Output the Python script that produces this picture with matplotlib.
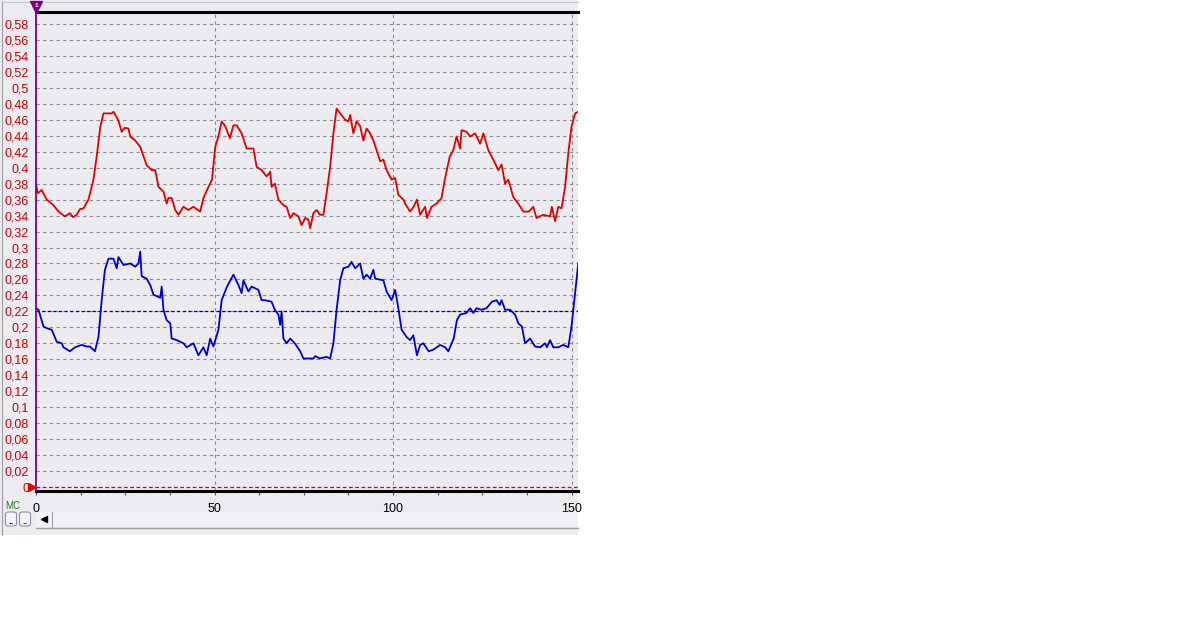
import numpy as np
import matplotlib
matplotlib.use("Agg")
import matplotlib.pyplot as plt
from matplotlib.patches import Rectangle, FancyBboxPatch
from matplotlib.lines import Line2D

# ---------------- data ----------------
red_x = [0, 0.5, 1.6, 3, 4.9, 6.3, 8.1, 9.5, 10.4, 11.4, 12.3, 13.3, 14.7, 16.1, 17, 18, 18.9,
         21.2, 21.7, 23, 24, 24.9, 25.9, 26.4, 27.8, 29.2, 31, 32.4, 33.4, 34.3, 35.7, 36.6,
         37.1, 38, 39, 39.9, 41.3, 42.7, 44.1, 46, 46.9, 47.9, 49.3, 50.2, 51.1, 52, 53, 54.3,
         55.3, 56.2, 57.6, 59, 60.9, 61.8, 63.2, 64.6, 65.6, 66, 66.9, 67.9, 69.3, 70.2, 71.2,
         72.1, 73.5, 74.4, 75.4, 76.3, 76.8, 77.7, 78.6, 79.5, 80.5, 81.4, 82.4, 83.3, 84.2,
         85.2, 86.6, 87.5, 88, 88.9, 89.8, 90.8, 91.7, 92.6, 93.6, 94.5, 95.4, 96.4, 97.3,
         98.2, 99.6, 100.6, 101.5, 102.9, 103.4, 104.8, 105.8, 106.7, 107.6, 109, 109.5,
         110.8, 112.2, 113.6, 114.5, 115.9, 116.9, 117.8, 118.8, 119.2, 120.6, 121.6, 123,
         124.4, 125.3, 126.7, 128.1, 129.5, 130.4, 131.4, 132.3, 133.7, 135.1, 136.5, 138,
         139.3, 140.2, 142.1, 144, 144.5, 145.4, 146.3, 147.2, 148.2, 149.1, 150, 151, 151.9]
red_y = [0.380, 0.368, 0.372, 0.360, 0.353, 0.345, 0.339, 0.343, 0.338, 0.341, 0.348, 0.349,
         0.360, 0.385, 0.414, 0.451, 0.468, 0.468, 0.470, 0.460, 0.445, 0.450, 0.449, 0.439,
         0.434, 0.426, 0.403, 0.397, 0.397, 0.376, 0.370, 0.355, 0.362, 0.362, 0.347, 0.341,
         0.351, 0.347, 0.351, 0.345, 0.362, 0.372, 0.385, 0.426, 0.439, 0.458, 0.452, 0.437,
         0.453, 0.453, 0.443, 0.424, 0.424, 0.401, 0.397, 0.389, 0.395, 0.376, 0.380, 0.360,
         0.353, 0.351, 0.337, 0.343, 0.339, 0.328, 0.337, 0.335, 0.324, 0.343, 0.347, 0.341,
         0.341, 0.368, 0.401, 0.443, 0.474, 0.468, 0.460, 0.458, 0.466, 0.443, 0.458, 0.452,
         0.434, 0.449, 0.443, 0.434, 0.422, 0.408, 0.410, 0.397, 0.385, 0.387, 0.366, 0.360,
         0.355, 0.345, 0.351, 0.360, 0.341, 0.351, 0.337, 0.351, 0.355, 0.362, 0.385, 0.414,
         0.422, 0.439, 0.424, 0.447, 0.445, 0.439, 0.443, 0.430, 0.443, 0.422, 0.410, 0.397,
         0.404, 0.380, 0.385, 0.363, 0.355, 0.345, 0.345, 0.351, 0.337, 0.341, 0.339, 0.351,
         0.333, 0.351, 0.349, 0.376, 0.418, 0.451, 0.468, 0.470]

blue_x = [0, 0.7, 2.1, 3, 4.4, 5.8, 7.2, 7.7, 9.5, 10.9, 12.8, 14.2, 15.1, 16.5, 17.5, 18.4,
          19.3, 20.3, 21.7, 22.6, 23.1, 24.5, 26.4, 27.8, 28.7, 29.2, 29.6, 31, 32, 32.9, 33.8,
          34.8, 35.2, 35.7, 36.6, 37.6, 38, 39.4, 41.3, 42.2, 44.1, 45.5, 46.9, 47.8, 48.8,
          49.7, 51.1, 52, 53.5, 55.3, 56.7, 57.6, 58.1, 59.5, 60.4, 62.3, 63.2, 64.2, 66, 66.9,
          67.9, 68.4, 68.8, 69.3, 70.2, 71.2, 72.5, 74, 74.9, 77.7, 78.2, 79.5, 81.4, 82.4,
          83.3, 84.2, 85.2, 86.1, 87.5, 88.4, 89.4, 90.8, 91.7, 92.6, 93.6, 94.5, 95, 97.3,
          98.2, 99.6, 100.6, 101.5, 102.4, 103.8, 104.8, 105.7, 106.7, 107.6, 108.5, 110,
          111.3, 113.2, 114.6, 115.5, 117, 117.9, 118.8, 120.6, 121.6, 122.5, 123.4, 124.8,
          126.2, 127.7, 129, 129.9, 130.4, 131.4, 132.8, 134.2, 135.1, 136.1, 137, 138.4,
          139.8, 141.2, 142.6, 143.1, 144, 144.9, 146.3, 147.7, 149.1, 150, 151, 151.9]
blue_y = [0.224, 0.222, 0.201, 0.199, 0.197, 0.182, 0.180, 0.175, 0.170, 0.175, 0.178, 0.176,
          0.176, 0.170, 0.188, 0.234, 0.272, 0.286, 0.286, 0.274, 0.288, 0.278, 0.280, 0.276,
          0.280, 0.295, 0.264, 0.261, 0.253, 0.241, 0.239, 0.237, 0.251, 0.222, 0.209, 0.205,
          0.186, 0.184, 0.180, 0.175, 0.180, 0.165, 0.175, 0.165, 0.186, 0.176, 0.197, 0.234,
          0.251, 0.266, 0.253, 0.243, 0.259, 0.245, 0.251, 0.247, 0.234, 0.234, 0.232, 0.222,
          0.216, 0.203, 0.220, 0.186, 0.180, 0.186, 0.180, 0.170, 0.161, 0.161, 0.164, 0.161,
          0.163, 0.161, 0.180, 0.222, 0.259, 0.274, 0.276, 0.282, 0.274, 0.280, 0.261, 0.266,
          0.261, 0.272, 0.261, 0.259, 0.245, 0.234, 0.247, 0.224, 0.197, 0.188, 0.184, 0.190,
          0.165, 0.178, 0.180, 0.170, 0.172, 0.178, 0.175, 0.170, 0.186, 0.209, 0.216, 0.218,
          0.224, 0.218, 0.224, 0.222, 0.224, 0.232, 0.234, 0.228, 0.234, 0.222, 0.222, 0.216,
          0.205, 0.201, 0.180, 0.186, 0.176, 0.175, 0.180, 0.175, 0.184, 0.175, 0.175, 0.178,
          0.175, 0.201, 0.243, 0.280]

blue_ref = 0.22          # dashed marker line of the blue channel
y_ticks = np.arange(0, 0.5801, 0.02)
y_labels = [('%.2f' % v).rstrip('0').rstrip('.').replace('.', ',') for v in y_ticks]
x_ticks = [0, 50, 100, 150]
x_minor = np.arange(0, 152, 12.5)

# ---------------- figure ----------------
W, H = 1181, 619
fig = plt.figure(figsize=(W / 100, H / 100), dpi=100)
fig.patch.set_facecolor('white')
plt.rcParams['font.family'] = ['Liberation Sans', 'DejaVu Sans']

bg = '#ECEBF0'


def fx(px):
    return px / W


def fy(py):
    return 1 - py / H


# panel background (behind the axes)
fig.patches.append(Rectangle((0, fy(535)), fx(578), 1 - fy(535), transform=fig.transFigure,
                             facecolor=bg, edgecolor='none', zorder=-10))
fig.add_artist(Line2D([fx(2), fx(2)], [fy(1), fy(535)], color='#A0A0A0', lw=0.8))
fig.add_artist(Line2D([fx(2), fx(578)], [fy(1.5), fy(1.5)], color='#C8C8C8', lw=0.8))

# plot area: px 36..578 horizontally, 12..491 vertically
ax = fig.add_axes([fx(36), fy(491), fx(578) - fx(36), fy(12) - fy(491)])
ax.set_zorder(1)
ax.set_facecolor(bg)
px_per_val = 463 / 0.58
ax.set_ylim(-4 / px_per_val, 475 / px_per_val)
ax.set_xlim(0, (578 - 36) / 3.57)

for s in ['left', 'right']:
    ax.spines[s].set_visible(False)
ax.spines['top'].set_color('black')
ax.spines['top'].set_linewidth(2.2)
ax.spines['bottom'].set_color('black')
ax.spines['bottom'].set_linewidth(2.2)

# grid
for v in y_ticks[1:]:
    ax.axhline(v, color='#8A8A8A', lw=0.8, ls=(0, (3, 3)), zorder=1)
for v in x_ticks[1:]:
    ax.axvline(v, color='#8A8A8A', lw=0.8, ls=(0, (3, 3)), zorder=1)
ax.axhline(0, color='#C0003C', lw=0.9, ls=(0, (3, 2)), zorder=2)
ax.axhline(blue_ref, color='#000080', lw=0.9, ls=(0, (2.5, 2)), zorder=2)

# series
ax.plot(red_x, red_y, color='#E00000', lw=1.3, zorder=4)
ax.plot(blue_x, blue_y, color='#0000D0', lw=1.3, zorder=4)

# cursor line at x=0 and markers
ax.axvline(0, color='#800080', lw=1.3, zorder=5, clip_on=False)
fig.add_artist(Line2D([fx(32)], [fy(487)], marker='>', color='#E00000', ms=6, zorder=6))
fig.add_artist(Line2D([fx(36)], [fy(7)], marker='v', color='#800080', ms=9, zorder=5))
fig.text(fx(36), fy(5.5), '1', color='white', fontsize=4.5, ha='center', va='center',
         fontweight='bold', zorder=6)

# ticks
ax.set_yticks(y_ticks)
ax.set_yticklabels(y_labels)
ax.tick_params(axis='y', length=0, pad=5, labelsize=9, labelcolor='#C80000')
ax.set_xticks(x_ticks)
ax.set_xticklabels([str(v) for v in x_ticks])
ax.set_xticks(x_minor, minor=True)
ax.tick_params(axis='x', which='both', direction='out', length=3, width=0.8,
               color='#505050', pad=6, labelsize=9, labelcolor='black')

# bottom controls
fig.text(fx(13), fy(506), 'MC', color='#208020', fontsize=7, ha='center', va='center')
for cx, c in [(11, '#000080'), (25, '#C00000')]:
    fig.patches.append(FancyBboxPatch((fx(cx - 5.5), fy(526)), fx(11), fy(512) - fy(526),
                                      boxstyle='round,pad=0,rounding_size=0.003',
                                      transform=fig.transFigure, facecolor='#F4F4F8',
                                      edgecolor='#9090A8', lw=0.8))
    fig.text(fx(cx), fy(521), '..', color=c, fontsize=7, ha='center', va='center',
             fontweight='bold')
fig.patches.append(Rectangle((fx(36), fy(527)), fx(542), fy(512) - fy(527),
                             transform=fig.transFigure, facecolor='#F2F1F5',
                             edgecolor='none'))
fig.add_artist(Line2D([fx(36), fx(578)], [fy(527.5), fy(527.5)], color='#A0A0A0', lw=1.0))
fig.add_artist(Line2D([fx(52), fx(52)], [fy(512), fy(527)], color='#A0A0A0', lw=0.8))
fig.add_artist(Line2D([fx(44)], [fy(519)], marker='<', color='black', ms=4))

fig.savefig('out.png', dpi=100, facecolor='white')
